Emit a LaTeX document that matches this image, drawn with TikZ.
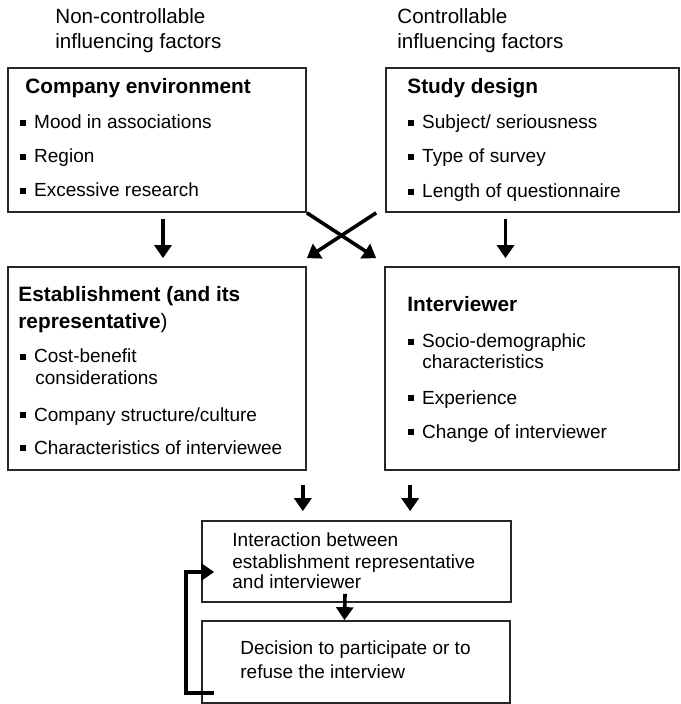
\documentclass[tikz,border=0pt]{standalone}
\usepackage{fontspec}
\setmainfont{Liberation Sans}
\usetikzlibrary{fit,arrows.meta}
\newcommand{\bul}{\rule[1.6pt]{2.7pt}{2.7pt}\hspace{4.2pt}}

\begin{document}
\begin{tikzpicture}[x=0.5pt,y=-0.5pt,
  box/.style={draw=black!85,line width=0.85pt,inner sep=0pt},
  txt/.style={anchor=base west,inner sep=0pt,font=\fontsize{9.5}{11}\selectfont},
  head/.style={anchor=base west,inner sep=0pt,font=\bfseries\fontsize{10.4}{12}\selectfont},
  side/.style={anchor=base west,inner sep=0pt,font=\fontsize{10.3}{12}\selectfont},
  arr/.style={line width=1.8pt,-{Triangle[length=6.5pt,width=8.5pt]}}]
\useasboundingbox (0,0) rectangle (680,704);

% column headers
\node[side] (nc1) at (55,24) {Non-controllable};
\node[side] (nc2) at (55,49) {influencing factors};
\node[side] (co1) at (397,24) {Controllable};
\node[side] (co2) at (397,49) {influencing factors};

% boxes
\node[box,fit={(8,68) (306,212)}] (comp) {};
\node[box,fit={(386,68) (679,212)}] (study) {};
\node[box,fit={(8,267) (306,470)}] (estab) {};
\node[box,fit={(385,267) (679,470)}] (intv) {};
\node[box,fit={(202,521) (511,602)}] (inter) {};
\node[box,fit={(202,621) (510,703)}] (dec) {};

% company environment
\node[head] (compt) at (25,94) {Company environment};
\node[txt] (comp1) at (20,129) {\bul Mood in associations};
\node[txt] (comp2) at (20,163) {\bul Region};
\node[txt] (comp3) at (20,197) {\bul Excessive research};

% study design
\node[head] (studyt) at (407,94) {Study design};
\node[txt] (study1) at (408,129) {\bul Subject/ seriousness};
\node[txt] (study2) at (408,163) {\bul Type of survey};
\node[txt] (study3) at (408,198) {\bul Length of questionnaire};

% establishment
\node[head] (estabt) at (18,302) {Establishment (and its};
\node[head] (estabr) at (18,329) {representative\textmd{)}};
\node[txt] (estab1) at (20,363) {\bul Cost-benefit};
\node[txt] (estab1b) at (35,384) {considerations};
\node[txt] (estab2) at (20,421) {\bul Company structure/culture};
\node[txt] (estab3) at (20,454) {\bul Characteristics of interviewee};

% interviewer
\node[head] (intvt) at (407,312) {Interviewer};
\node[txt] (intv1) at (408,348) {\bul Socio-demographic};
\node[txt] (intv1b) at (422,369) {characteristics};
\node[txt] (intv2) at (408,404) {\bul Experience};
\node[txt] (intv3) at (408,438) {\bul Change of interviewer};

% interaction and decision
\node[txt] (inter1) at (232,546) {Interaction between};
\node[txt] (inter2) at (232,568) {establishment representative};
\node[txt] (inter3) at (232,588) {and interviewer};
\node[txt] (dec1) at (240,654) {Decision to participate or to};
\node[txt] (dec2) at (240,678) {refuse the interview};

% arrows
\draw[arr,shorten <=3pt,shorten >=4pt] ([xshift=3pt]comp.south) -- ([xshift=3pt]estab.north);
\draw[arr,shorten <=3pt,shorten >=4pt] ([xshift=-13.5pt]study.south) -- ([xshift=-13.5pt]study.south |- intv.north);
\draw[arr] (comp.south east) -- ([shift={(-4pt,4pt)}]intv.north west);
\draw[arr] ([xshift=-4.5pt]study.south west) -- ([yshift=4pt]estab.north east);
\draw[arr,shorten <=7pt,shorten >=4.5pt] ([xshift=-2pt]estab.south east) -- ([xshift=-2pt]estab.south east |- inter.north);
\draw[arr,shorten <=7pt,shorten >=4.5pt] ([xshift=13pt]intv.south west) -- ([xshift=13pt]intv.south west |- inter.north);
\draw[arr] ([shift={(-5.75pt,4.5pt)}]inter.south) -- ([xshift=-5.75pt]dec.north);
\draw[arr] ([shift={(6.5pt,5.5pt)}]dec.south west) -- ++(-14pt,0) |- ([shift={(6.5pt,-5.25pt)}]inter.west);
\end{tikzpicture}
\end{document}
